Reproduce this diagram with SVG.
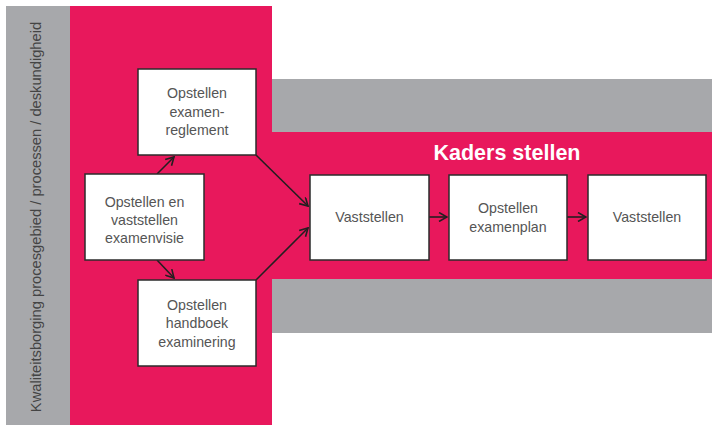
<svg xmlns="http://www.w3.org/2000/svg" width="712" height="425" viewBox="0 0 712 425">
<defs>
<style>
.box{fill:#fff;stroke:#2b2b2b;stroke-width:1.5}
.t{font-family:"Liberation Sans",Arial,sans-serif;font-size:14.2px;fill:#555;text-anchor:middle}
.c{fill:none;stroke:#231f20;stroke-width:1.6}
</style>
<marker id="ah" viewBox="0 0 10 10" refX="9" refY="5" markerWidth="10" markerHeight="10" markerUnits="userSpaceOnUse" orient="auto">
<path d="M1,0.5 L9,5 L1,9.5" fill="none" stroke="#231f20" stroke-width="1.6"/>
</marker>
</defs>
<rect width="712" height="425" fill="#fff"/>
<g id="background">
<rect x="6" y="6" width="64" height="419" fill="#a7a8ab"/>
<rect x="70" y="6" width="202" height="419" fill="#e8185c"/>
<rect x="272" y="79" width="440" height="53" fill="#a7a8ab"/>
<rect x="272" y="132" width="440" height="147" fill="#e8185c"/>
<rect x="272" y="279" width="440" height="54" fill="#a7a8ab"/>
<text x="0" y="0" transform="translate(41,217) rotate(-90)" font-family="'Liberation Sans',Arial,sans-serif" font-size="14.7" fill="#444" text-anchor="middle">Kwaliteitsborging procesgebied / processen / deskundigheid</text>
<text x="507" y="160" font-family="'Liberation Sans',Arial,sans-serif" font-size="21.5" font-weight="bold" fill="#fff" text-anchor="middle">Kaders stellen</text>
</g>
<g id="connectors">
<line class="c" x1="157" y1="174" x2="174" y2="157" marker-end="url(#ah)"/>
<line class="c" x1="157" y1="260" x2="174" y2="278" marker-end="url(#ah)"/>
<line class="c" x1="256" y1="155" x2="308" y2="206" marker-end="url(#ah)"/>
<line class="c" x1="256" y1="280" x2="308" y2="228" marker-end="url(#ah)"/>
<line class="c" x1="429" y1="217" x2="447" y2="217" marker-end="url(#ah)"/>
<line class="c" x1="567" y1="217" x2="586" y2="217" marker-end="url(#ah)"/>
</g>
<g id="n-examenvisie">
<rect class="box" x="85" y="174" width="119" height="86"/>
<text class="t" x="144.5" y="207">Opstellen en</text>
<text class="t" x="144.5" y="225">vaststellen</text>
<text class="t" x="144.5" y="243">examenvisie</text>
</g>
<g id="n-reglement">
<rect class="box" x="138" y="69" width="118" height="86"/>
<text class="t" x="197" y="98">Opstellen</text>
<text class="t" x="197" y="117">examen-</text>
<text class="t" x="197" y="135">reglement</text>
</g>
<g id="n-handboek">
<rect class="box" x="138" y="280" width="118" height="86"/>
<text class="t" x="197" y="310">Opstellen</text>
<text class="t" x="197" y="328">handboek</text>
<text class="t" x="197" y="347">examinering</text>
</g>
<g id="n-vaststellen1">
<rect class="box" x="310" y="175" width="119" height="85"/>
<text class="t" x="369.5" y="222">Vaststellen</text>
</g>
<g id="n-examenplan">
<rect class="box" x="449" y="175" width="118" height="85"/>
<text class="t" x="508" y="213">Opstellen</text>
<text class="t" x="508" y="232">examenplan</text>
</g>
<g id="n-vaststellen2">
<rect class="box" x="588" y="175" width="118" height="85"/>
<text class="t" x="647" y="222">Vaststellen</text>
</g>
</svg>
